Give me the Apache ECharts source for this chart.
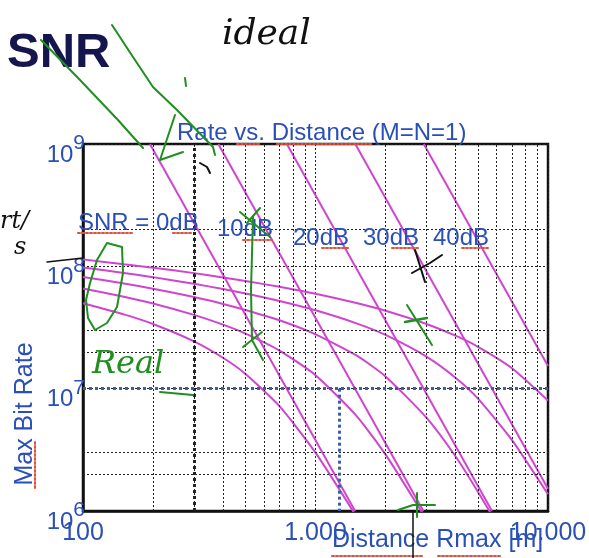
<!DOCTYPE html>
<html>
<head>
<meta charset="utf-8">
<script src="https://cdn.jsdelivr.net/npm/echarts@6/dist/echarts.min.js"></script>
<style>
  html, body { margin: 0; padding: 0; background: #fff; }
  #main { width: 589px; height: 558px; }
</style>
</head>
<body>
<div id="main"></div>
<script>
var distances = [100, 150, 200, 300, 400, 500, 700, 1000, 1500, 2000, 3000, 4000, 5000, 7000, 10000];
// real (Shannon-like) curves, bit/s
var real0dB  = [5.00e7, 4.05e7, 3.38e7, 2.44e7, 1.79e7, 1.32e7, 7.2e6, 3.0e6, 9.0e5, null, null, null, null, null, null];
var real10dB = [6.60e7, 5.64e7, 4.97e7, 4.01e7, 3.34e7, 2.82e7, 2.05e7, 1.29e7, 6.0e6, 2.9e6, 8.5e5, null, null, null, null];
var real20dB = [8.19e7, 7.24e7, 6.56e7, 5.61e7, 4.93e7, 4.40e7, 3.62e7, 2.78e7, 1.87e7, 1.26e7, 5.8e6, 2.8e6, 1.43e6, 4.9e5, null];
var real30dB = [9.79e7, 8.83e7, 8.16e7, 7.20e7, 6.52e7, 6.00e7, 5.21e7, 4.37e7, 3.42e7, 2.75e7, 1.83e7, 1.23e7, 8.3e6, 3.8e6, 1.37e6];
var real40dB = [1.14e8, 1.04e8, 9.75e7, 8.80e7, 8.12e7, 7.59e7, 6.80e7, 5.96e7, 5.01e7, 4.33e7, 3.38e7, 2.71e7, 2.20e7, 1.47e7, 8.0e6];
// ideal straight lines: start / end points
var idealStartDist = [194, 382, 753, 1483, 2922];
var idealStartRate = [1e9, 1e9, 1e9, 1e9, 1e9];
var idealEndDist   = [1480, 2910, 5740, 10000, 10000];
var idealEndRate   = [1e6, 1e6, 1e6, 1.52e6, 1.53e7];
var snrLabels = ['SNR = 0dB', '10dB', '20dB', '30dB', '40dB'];
// ticks and grid
var xTickValues = [100, 1000, 10000];
var xTickLabels = ['100', '1.000', '10.000'];
var xMinorGrid = [200, 300, 400, 500, 600, 700, 800, 900, 2000, 3000, 4000, 5000, 6000, 7000, 8000, 9000];
var yMinorGrid = [2e6, 3e6, 2e7, 3e7, 2e8];
var markDistance = [300];
var refRate = [1e7];
var refDistance = [1260];

var BLUE = '#2a50b8';
var MAGENTA = '#cf45cf';
var GREEN = '#1f8f1f';
var FONT = '"Liberation Sans", Arial, sans-serif';

function pairs(arr) {
    var out = [];
    for (var i = 0; i < distances.length; i++) {
        if (arr[i] != null) out.push([distances[i], arr[i]]);
    }
    return out;
}

var series = [];
// minor grid lines
series.push({
    type: 'line', data: [[100, 1e6]], showSymbol: false, silent: true, z: 1,
    lineStyle: { opacity: 0 },
    markLine: {
        silent: true, symbol: ['none', 'none'], animation: false,
        label: { show: false },
        lineStyle: { color: '#222', width: 1, type: [2, 2] },
        data: xMinorGrid.map(function (v) { return { xAxis: v }; })
            .concat(yMinorGrid.map(function (v) { return { yAxis: v }; }))
    }
});
// heavy dotted at 300 m
series.push({
    type: 'line', data: [[100, 1e6]], showSymbol: false, silent: true, z: 2,
    lineStyle: { opacity: 0 },
    markLine: {
        silent: true, symbol: ['none', 'none'], animation: false,
        label: { show: false },
        lineStyle: { color: '#222', width: 3, type: [3, 3] },
        data: markDistance.map(function (v) { return { xAxis: v }; })
    }
});
var reals = [real0dB, real10dB, real20dB, real30dB, real40dB];
reals.forEach(function (arr) {
    series.push({
        type: 'line', data: pairs(arr), showSymbol: false, smooth: 0.2, z: 3,
        lineStyle: { color: MAGENTA, width: 2 }
    });
});
for (var k = 0; k < idealStartDist.length; k++) {
    series.push({
        type: 'line', showSymbol: false, z: 3,
        data: [[idealStartDist[k], idealStartRate[k]], [idealEndDist[k], idealEndRate[k]]],
        lineStyle: { color: MAGENTA, width: 2 }
    });
}
// blue reference lines
series.push({
    type: 'line', data: [[100, 1e6]], showSymbol: false, silent: true, z: 4,
    lineStyle: { opacity: 0 },
    markLine: {
        silent: true, symbol: ['none', 'none'], animation: false,
        label: { show: false },
        lineStyle: { color: '#3b5da8', width: 3, type: [3, 3] },
        data: [
            [{ coord: [100, refRate[0]] }, { coord: [10000, refRate[0]] }],
            [{ coord: [refDistance[0], refRate[0]] }, { coord: [refDistance[0], 1e6] }]
        ]
    }
});

function txt(x, y, s, size, color, extra) {
    var o = {
        type: 'text', x: x, y: y, z: 100, silent: true,
        style: { text: s, font: size + 'px ' + FONT, fill: color, align: 'left', verticalAlign: 'middle' }
    };
    if (extra) for (var key in extra) o[key] = extra[key];
    return o;
}
function stroke(points, color, width, dash) {
    return {
        type: 'polyline', z: 100, silent: true,
        shape: { points: points },
        style: { stroke: color, lineWidth: width, fill: null, lineDash: dash || null, lineCap: 'round', lineJoin: 'round' }
    };
}

var snrPos = [[78, 223], [217, 229], [293, 238], [363, 238], [433, 238]];
var graphics = [
    { type: 'text', x: 7, y: 53, z: 100, style: { text: 'SNR', font: 'bold 49px ' + FONT, fill: '#16164f', verticalAlign: 'middle' } },
    txt(177, 133, 'Rate vs. Distance (M=N=1)', 24, BLUE),
    txt(332, 540, 'Distance Rmax [m]', 25, BLUE),
    { type: 'text', x: 25, y: 414, rotation: Math.PI / 2, z: 100,
      style: { text: 'Max Bit Rate', font: '25px ' + FONT, fill: BLUE, align: 'center', verticalAlign: 'middle' } },
    { type: 'text', x: 222, y: 35, z: 100, style: { text: 'ideal', font: 'italic 36px "DejaVu Serif", serif', fill: '#111', verticalAlign: 'middle' } },
    { type: 'text', x: 92, y: 365, z: 100, style: { text: 'Real', font: 'italic 32px "DejaVu Serif", serif', fill: GREEN, verticalAlign: 'middle' } },
    { type: 'text', x: 0, y: 222, z: 100, style: { text: 'rt/', font: 'italic 24px "DejaVu Serif", serif', fill: '#111', verticalAlign: 'middle' } },
    { type: 'text', x: 14, y: 248, z: 100, style: { text: 's', font: 'italic 24px "DejaVu Serif", serif', fill: '#111', verticalAlign: 'middle' } }
];
snrLabels.forEach(function (s, i) {
    graphics.push(txt(snrPos[i][0], snrPos[i][1], s, 24, BLUE));
});
// red spell-check underlines
var RED = '#e0503c';
[[[78, 233], [132, 233]], [[173, 233], [193, 233]], [[243, 240], [272, 240]], [[322, 248], [350, 248]],
 [[392, 248], [418, 248]], [[462, 248], [488, 248]], [[237, 144], [260, 144]], [[277, 144], [372, 144]],
 [[332, 556], [423, 556]], [[438, 556], [500, 556]], [[35, 442], [35, 490]]].forEach(function (p) {
    graphics.push(stroke(p, RED, 2, [2, 2]));
});
// handwritten annotations
graphics.push(stroke([[41, 40], [80, 80], [118, 120], [143, 148]], GREEN, 2));
graphics.push(stroke([[112, 25], [133, 57], [153, 87], [177, 110], [213, 147], [215, 155]], GREEN, 2));
graphics.push(stroke([[175, 115], [160, 160], [183, 152]], GREEN, 2));
graphics.push(stroke([[185, 78], [186, 86]], GREEN, 2));
graphics.push(stroke([[122, 247], [107, 243], [97, 260], [90, 283], [86, 300], [88, 318], [95, 330], [107, 323], [117, 307], [123, 273], [122, 247]], GREEN, 2));
graphics.push(stroke([[193, 395], [160, 392]], GREEN, 2));
graphics.push(stroke([[240, 212], [270, 237]], GREEN, 2));
graphics.push(stroke([[260, 208], [247, 223]], GREEN, 2));
graphics.push(stroke([[253, 217], [251, 290], [252, 340], [263, 360]], GREEN, 2));
graphics.push(stroke([[243, 347], [262, 332]], GREEN, 2));
graphics.push(stroke([[407, 305], [432, 345]], GREEN, 2));
graphics.push(stroke([[405, 322], [427, 318]], GREEN, 2.5));
graphics.push(stroke([[417, 493], [417, 517]], GREEN, 2));
graphics.push(stroke([[398, 510], [413, 505], [435, 505]], GREEN, 2));
graphics.push(stroke([[415, 250], [425, 282]], '#111', 2));
graphics.push(stroke([[412, 273], [430, 263], [442, 255]], '#111', 2));
graphics.push(stroke([[413, 512], [413, 558]], '#111', 1.5));
graphics.push(stroke([[47, 262], [83, 258]], '#111', 1.5));
graphics.push(stroke([[200, 163], [207, 167], [210, 173]], '#111', 2));

var option = {
    animation: false,
    backgroundColor: '#fff',
    grid: {
        left: 83, right: 41, top: 144, bottom: 47,
        show: true, borderColor: '#111', borderWidth: 2.5,
        outerBoundsMode: 'none'
    },
    xAxis: {
        type: 'log', logBase: 10, min: 100, max: 10000,
        axisLine: { show: true, lineStyle: { color: '#111', width: 2.5 } },
        axisTick: { show: false },
        splitLine: { show: true, lineStyle: { color: '#222', width: 1, type: [2, 2] } },
        axisLabel: {
            margin: 10, fontSize: 25, color: BLUE, fontFamily: FONT,
            formatter: function (v) {
                var e = Math.round(Math.log10(v));
                for (var i = 0; i < xTickValues.length; i++) {
                    if (Math.round(Math.log10(xTickValues[i])) === e) return xTickLabels[i];
                }
                return '';
            }
        }
    },
    yAxis: {
        type: 'log', logBase: 10, min: 1e6, max: 1e9,
        axisLine: { show: true, lineStyle: { color: '#111', width: 2.5 } },
        axisTick: { show: false },
        splitLine: { show: true, lineStyle: { color: '#222', width: 1, type: [2, 2] } },
        axisLabel: {
            margin: -2, color: BLUE, fontFamily: FONT, padding: [12, 0, 0, 0],
            formatter: function (v) {
                return '{b|10}{s|' + Math.round(Math.log10(v)) + '}';
            },
            rich: {
                b: { fontSize: 24, color: BLUE, fontFamily: FONT, verticalAlign: 'bottom' },
                s: { fontSize: 21, color: BLUE, fontFamily: FONT, verticalAlign: 'bottom', padding: [0, 0, 13, 0] }
            }
        }
    },
    series: series,
    graphic: graphics
};

try {
    var chart = echarts.init(document.getElementById('main'), null, { renderer: 'canvas' });
    chart.setOption(option);
} catch (e) {
    console.warn(e);
}
</script>
</body>
</html>
